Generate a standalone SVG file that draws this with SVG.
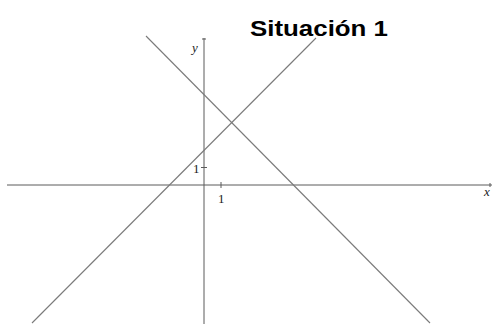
<svg xmlns="http://www.w3.org/2000/svg" width="493" height="324" viewBox="0 0 493 324">
<style>
.axis{stroke:#5a5a5a;stroke-width:1;fill:none}
.line{stroke:#7a7a7a;stroke-width:1.1;fill:none}
.lab{font-family:"Liberation Serif","DejaVu Serif",serif;font-size:13px;fill:#222}
.it{font-style:italic}
.title{font-family:"Liberation Sans",Arial,sans-serif;font-weight:bold;font-size:22px;fill:#000}
</style>
<rect width="493" height="324" fill="#fff"/>
<g id="axes">
<line class="axis" x1="7" y1="185" x2="492" y2="185"/>
<line class="axis" x1="204" y1="38" x2="204" y2="324"/>
<line class="axis" x1="221" y1="182" x2="221" y2="188"/>
<line class="axis" x1="201" y1="167.5" x2="207" y2="167.5"/>
<line class="axis" x1="490" y1="183" x2="490" y2="187"/>
<line class="axis" x1="202" y1="39" x2="206" y2="39"/>
</g>
<g id="connectors">
<line class="line" x1="32" y1="323" x2="316" y2="38"/>
<line class="line" x1="146" y1="36" x2="430" y2="323"/>
</g>
<g id="labels">
<text class="lab it" x="192" y="52">y</text>
<text class="lab it" x="484" y="196">x</text>
<text class="lab" x="193" y="173">1</text>
<text class="lab" x="218" y="203">1</text>
<text class="title" x="250" y="36" textLength="138" lengthAdjust="spacingAndGlyphs">Situación 1</text>
</g>
</svg>
